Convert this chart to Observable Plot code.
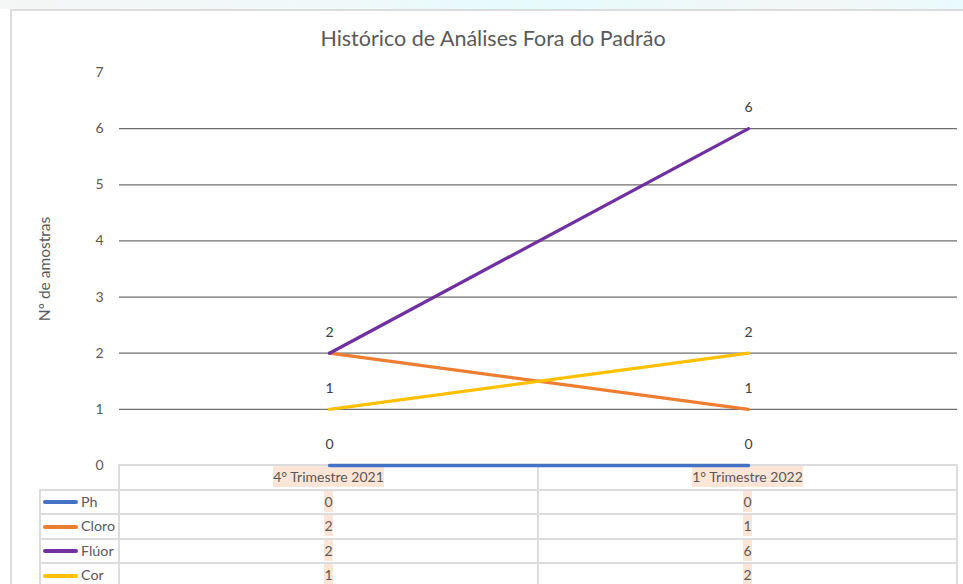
<!DOCTYPE html>
<html><head><meta charset="utf-8">
<script src="https://cdn.jsdelivr.net/npm/d3@7"></script>
<script src="https://cdn.jsdelivr.net/npm/@observablehq/plot@0.6"></script>
<style>
body{margin:0;background:#fff;font-family:Lato,"Open Sans",sans-serif;}
#wrap{position:relative;width:963px;height:584px;overflow:hidden;background:#fff;}
#strip{position:absolute;left:0;top:0;width:963px;height:9px;background:linear-gradient(90deg,#f5f6f6 0%,#f0f9fa 35%,#e6fbfd 55%,#f4f7f7 85%,#e9fbfd 100%);}
#panel{position:absolute;left:10px;top:9px;width:953px;height:575px;border-left:2px solid #dcdcdc;border-top:2px solid #dcdcdc;box-sizing:border-box;}
#title{position:absolute;top:25px;left:0;width:986px;text-align:center;font-size:21.5px;color:#595959;}
#chart{position:absolute;left:0;top:0;}
.hl{position:absolute;background:#dcdcdc;}
.cell{position:absolute;text-align:center;font-size:14px;color:#595959;height:24px;line-height:24px;}
.cell span{background:#fbe5d6;padding:2px 0;}
.key{position:absolute;height:4px;border-radius:2px;width:35px;left:43px;}
.lab{position:absolute;left:81px;font-size:14.3px;color:#595959;height:24px;line-height:24px;}
</style></head>
<body>
<div id="wrap">
  <div id="strip"></div>
  <div id="panel"></div>
  <div id="title">Histórico de Análises Fora do Padrão</div>
  <div id="table"></div>
  <div id="chart"></div>
</div>
<script>
const categories = ["4° Trimestre 2021", "1° Trimestre 2022"];
const series = ["Ph", "Cloro", "Flúor", "Cor"];
const ph = [0, 0];
const cloro = [2, 1];
const fluor = [2, 6];
const cor = [1, 2];
const colors = ["#4472C4", "#ED7D31", "#7030A0", "#FFC000"];
const yTicks = [0, 1, 2, 3, 4, 5, 6, 7];
const yLabel = "Nº de amostras";

const valuesBySeries = [ph, cloro, fluor, cor];
const data = series.flatMap((s, i) => categories.map((c, j) => ({series: s, category: c, value: valuesBySeries[i][j]})));
// one label per distinct position (overlapping identical labels drawn once)
const seen = new Set();
const labels = data.filter(d => { const k = d.category + "|" + d.value; if (seen.has(k)) return false; seen.add(k); return true; });

const chart = Plot.plot({
  width: 963, height: 470,
  marginTop: 72, marginBottom: 5, marginLeft: 119, marginRight: 6,
  style: {fontFamily: "Lato, 'Open Sans', sans-serif", fontSize: "14px", color: "#595959", background: "transparent", overflow: "visible"},
  x: {type: "point", domain: categories, padding: 0.5, axis: null},
  y: {domain: [0, 7], axis: null},
  color: {domain: series, range: colors},
  marks: [
    Plot.ruleY(yTicks.filter(v => v > 0 && v < 7), {stroke: "#6f6f6f", strokeWidth: 1.3}),
    Plot.axisY({ticks: yTicks, tickFormat: "d", tickSize: 0, tickPadding: 16, label: null, fill: "#595959", fontSize: 14}),
    Plot.text([yLabel], {frameAnchor: "left", textAnchor: "middle", dx: -74, rotate: -90, fill: "#595959", fontSize: 15.5}),
    Plot.line(data, {x: "category", y: "value", stroke: "series", z: "series", strokeWidth: 3.3, strokeLinecap: "round", strokeLinejoin: "round"}),
    Plot.text(labels, {x: "category", y: "value", text: d => String(d.value), dy: -21, fill: "#404040", fontSize: 14})
  ]
});
document.getElementById("chart").appendChild(chart);

// data table below the plot
const tbl = document.getElementById("table");
const colX = [40, 119, 538, 957];
const rowY = [465, 489.5, 514, 538.5, 563, 587.5];
function line(x, y, w, h) {
  const d = document.createElement("div");
  d.className = "hl";
  Object.assign(d.style, {left: x + "px", top: y + "px", width: w + "px", height: h + "px"});
  tbl.appendChild(d);
}
const lw = 2;
line(colX[1] - 1, rowY[0] - 1, colX[3] - colX[1] + lw, lw);
for (let r = 1; r < rowY.length; r++) line(colX[0] - 1, rowY[r] - 1, colX[3] - colX[0] + lw, lw);
line(colX[0] - 1, rowY[1] - 1, lw, 120);
for (let c = 1; c < colX.length; c++) line(colX[c] - 1, rowY[0] - 1, lw, 140);

function cell(text, x0, x1, y) {
  const d = document.createElement("div");
  d.className = "cell";
  Object.assign(d.style, {left: x0 + "px", width: (x1 - x0) + "px", top: y + "px"});
  const s = document.createElement("span");
  s.textContent = text;
  d.appendChild(s);
  tbl.appendChild(d);
}
categories.forEach((c, j) => cell(c, colX[j + 1], colX[j + 2], rowY[0]));
series.forEach((s, i) => {
  const y = rowY[i + 1];
  const k = document.createElement("div");
  k.className = "key";
  Object.assign(k.style, {top: (y + 10.5) + "px", background: colors[i]});
  tbl.appendChild(k);
  const l = document.createElement("div");
  l.className = "lab";
  l.style.top = y + "px";
  l.textContent = s;
  tbl.appendChild(l);
  categories.forEach((c, j) => cell(String(valuesBySeries[i][j]), colX[j + 1], colX[j + 2], y));
});
</script>
</body></html>
